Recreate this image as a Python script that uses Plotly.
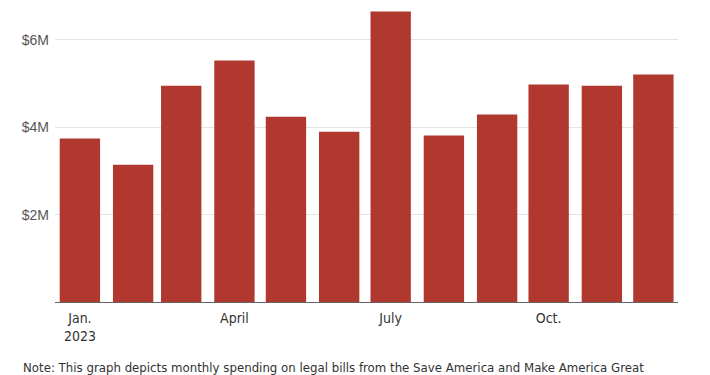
import plotly.graph_objects as go

months = ["2023-01-01", "2023-02-01", "2023-03-01", "2023-04-01", "2023-05-01", "2023-06-01",
          "2023-07-01", "2023-08-01", "2023-09-01", "2023-10-01", "2023-11-01", "2023-12-01"]
spending = [3.74e6, 3.14e6, 4.95e6, 5.53e6, 4.24e6, 3.90e6,
            6.65e6, 3.81e6, 4.29e6, 4.98e6, 4.95e6, 5.21e6]
tick_dates = ["2023-01-01", "2023-04-01", "2023-07-01", "2023-10-01"]
tick_labels = ["Jan.<br>2023", "April", "July", "Oct."]
y_ticks = [2e6, 4e6, 6e6]
y_labels = ["$2M", "$4M", "$6M"]

DAY_MS = 86400000
NARROW = "DejaVu Sans Condensed, Liberation Sans Narrow, Roboto, sans-serif"

fig = go.Figure(go.Bar(
    x=months, y=spending,
    width=[23.5 * DAY_MS] * len(months),
    marker=dict(color="#b0382f", line=dict(width=0)),
    hoverinfo="skip",
))

fig.update_layout(
    width=702, height=367,
    margin=dict(l=47, r=32, t=0, b=73, autoexpand=False),
    paper_bgcolor="white", plot_bgcolor="white",
    showlegend=False,
    font=dict(family=NARROW, color="#333"),
    xaxis=dict(
        type="date",
        range=["2022-12-17 12:00", "2023-12-15 08:00"],
        tickvals=tick_dates, ticktext=tick_labels,
        showgrid=False, zeroline=False, automargin=False,
        showline=True, linecolor="#666", linewidth=1,
        ticks="", ticklabelstandoff=3,
        tickfont=dict(size=14, color="#333", family=NARROW),
    ),
    yaxis=dict(
        range=[0, 6.73e6],
        tickvals=y_ticks, ticktext=y_labels,
        showgrid=True, gridcolor="#e4e4e4", gridwidth=1,
        zeroline=False, showline=False, ticks="", automargin=False,
        ticklabelstandoff=5,
        tickfont=dict(size=14, color="#555", family="Liberation Sans, Arial, sans-serif"),
    ),
    annotations=[dict(
        text="Note: This graph depicts monthly spending on legal bills from the Save America and Make America Great",
        xref="paper", yref="paper", x=(13 - 47) / 623, y=-0.19, xanchor="left", yanchor="top",
        showarrow=False, align="left",
        font=dict(size=13.1, color="#333", family=NARROW),
    )],
)

fig.write_html("out.html")
